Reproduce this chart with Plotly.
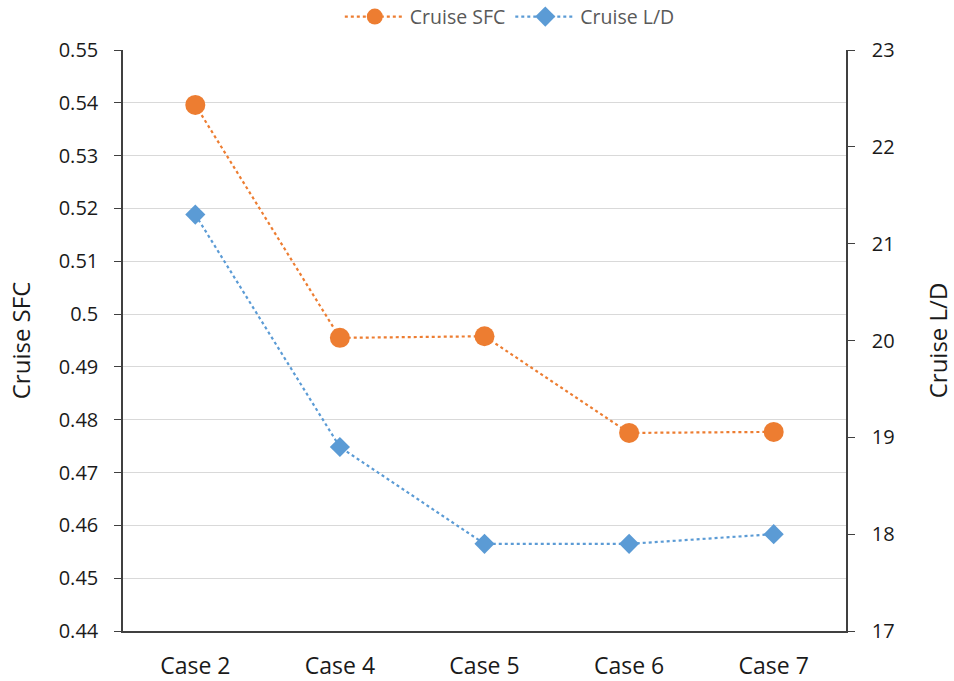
import plotly.graph_objects as go

cases = ["Case 2", "Case 4", "Case 5", "Case 6", "Case 7"]
cruise_sfc = [0.5396, 0.4955, 0.4958, 0.4775, 0.4777]
cruise_ld = [21.30, 18.90, 17.90, 17.90, 18.00]

sfc_ticks = [round(0.44 + 0.01 * i, 2) for i in range(12)]
ld_ticks = list(range(17, 24))

ORANGE = "#ED7D31"
BLUE = "#5B9BD5"
FONT = "Open Sans"
AXIS_COLOR = "#404040"

fig = go.Figure()
fig.add_trace(go.Scatter(
    x=cases, y=cruise_sfc, name="Cruise SFC", mode="lines+markers",
    line=dict(color=ORANGE, width=2.2, dash="dot"),
    marker=dict(symbol="circle", size=20, color=ORANGE),
    yaxis="y",
))
fig.add_trace(go.Scatter(
    x=cases, y=cruise_ld, name="Cruise L/D", mode="lines+markers",
    line=dict(color=BLUE, width=2.2, dash="dot"),
    marker=dict(symbol="diamond", size=15.5, color=BLUE),
    yaxis="y2",
))

fig.update_layout(
    width=954, height=681,
    margin=dict(l=123, r=108, t=50, b=50, autoexpand=False),
    paper_bgcolor="white", plot_bgcolor="white",
    font=dict(family=FONT, size=20, color="#1a1a1a"),
    showlegend=True,
    legend=dict(
        orientation="h", x=0.535, xanchor="center", y=1.057, yanchor="middle",
        font=dict(family=FONT, size=19.5, color="#595959"),
        itemwidth=60, tracegroupgap=0,
    ),
    xaxis=dict(
        type="category", range=[-0.5, 4.5], automargin=False,
        showline=True, linecolor=AXIS_COLOR, linewidth=1.5,
        showgrid=False, ticks="", tickfont=dict(size=23),
        ticklabelstandoff=14,
    ),
    yaxis=dict(
        range=[0.44, 0.55], tickvals=sfc_ticks, automargin=False,
        ticktext=[("%g" % v) for v in sfc_ticks],
        showline=True, linecolor=AXIS_COLOR, linewidth=1.5,
        ticks="outside", ticklen=7, tickcolor=AXIS_COLOR,
        showgrid=True, gridcolor="#d9d9d9", gridwidth=1,
        zeroline=False, tickfont=dict(size=20), ticklabelstandoff=12,
        title=dict(text="Cruise SFC", font=dict(size=24), standoff=21),
    ),
    yaxis2=dict(
        range=[17, 23], tickvals=ld_ticks, automargin=False,
        overlaying="y", side="right",
        showline=True, linecolor=AXIS_COLOR, linewidth=1.5,
        ticks="outside", ticklen=7, tickcolor=AXIS_COLOR,
        showgrid=False, zeroline=False, tickfont=dict(size=20),
        ticklabelstandoff=13,
        title=dict(text="Cruise L/D", font=dict(size=24), standoff=43),
    ),
)

fig.write_html("out.html")
